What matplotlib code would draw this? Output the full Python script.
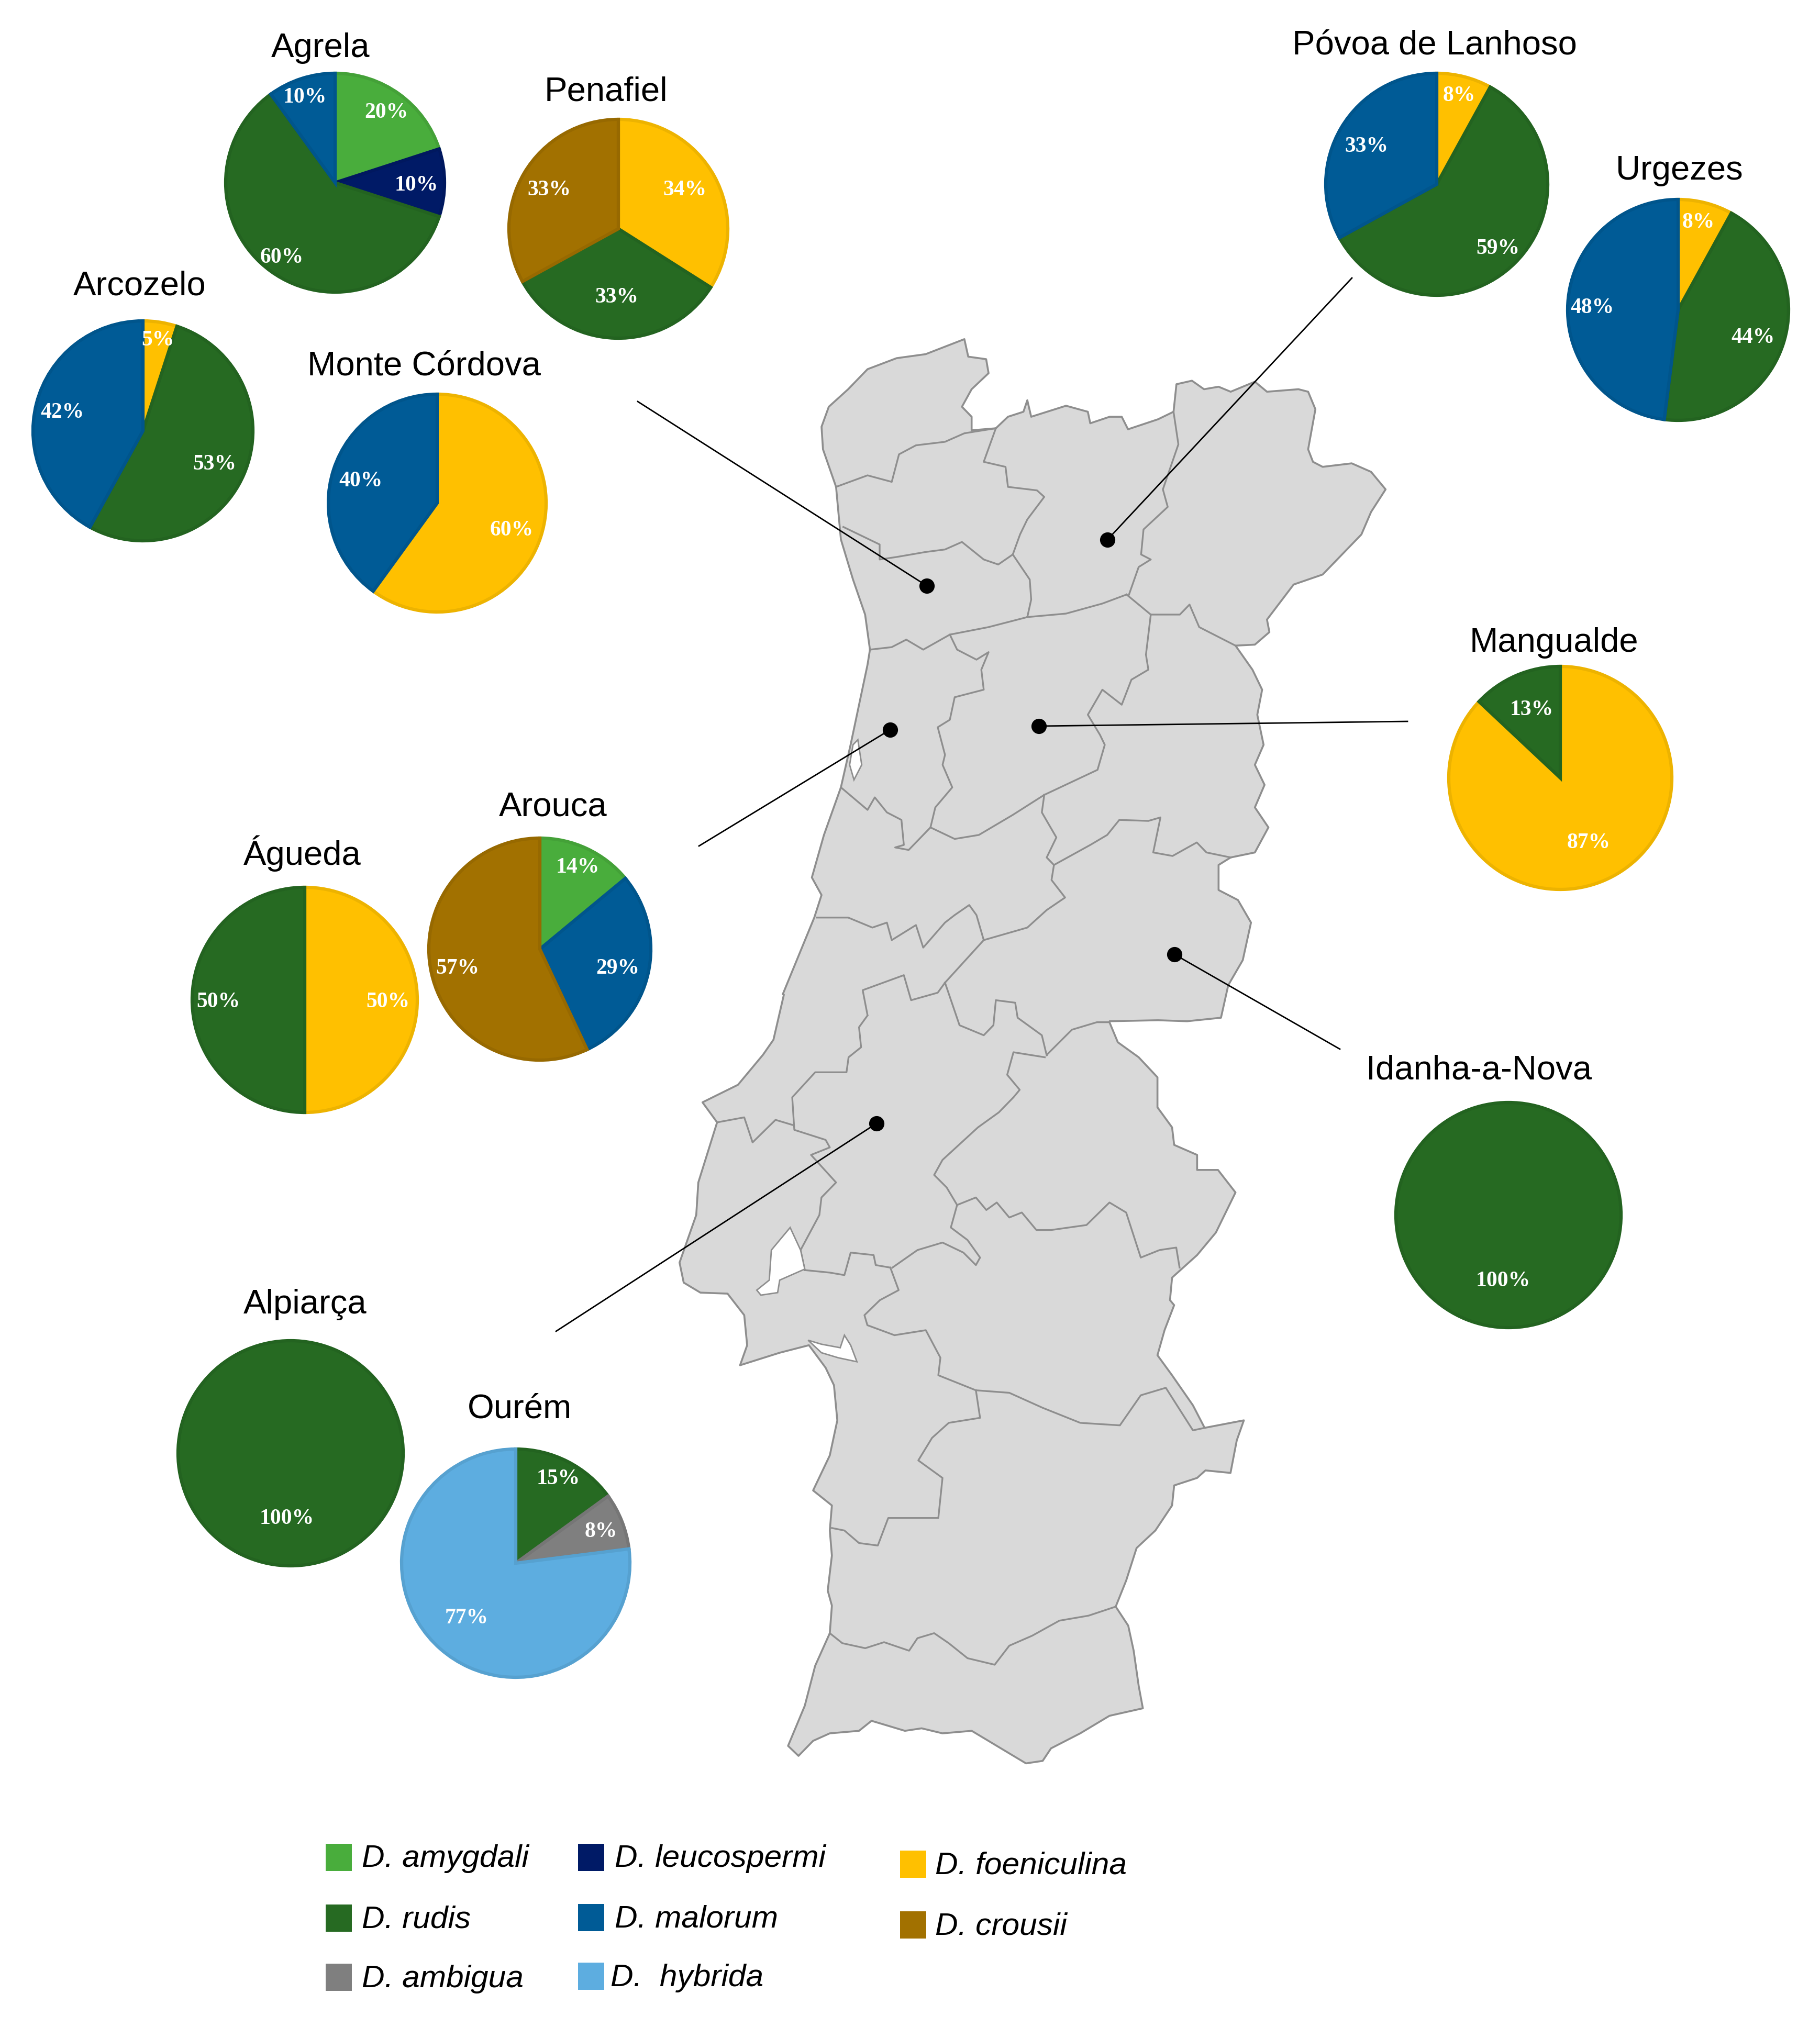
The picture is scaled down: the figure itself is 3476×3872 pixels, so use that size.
import matplotlib
matplotlib.use("Agg")
import matplotlib.pyplot as plt
from matplotlib.patches import Polygon, Rectangle
from matplotlib.colors import to_rgb

W = 3476
H = 3872
# 缩放截图坐标换算到整图像素
Z1 = (1250, 600, 1568 / 1450, 1568 / 1500)
Z2 = (1250, 1900, 1568 / 1250, 1568 / 1500)
SHOW = W / 1408  # 显示坐标 -> 整图像素
TEXT_SHIFT = 3  # 文字整体下移

# 各物种颜色
COLORS = {
    "amygdali": "#49ad3c", "leucospermi": "#001a66", "rudis": "#266a22",
    "malorum": "#005b96", "ambigua": "#7f7f7f", "hybrida": "#5dade0",
    "foeniculina": "#ffc000", "crousii": "#a27100",
}

# 饼图数据
agrela_species = ["amygdali", "leucospermi", "rudis", "malorum"]
agrela_values = [20, 10, 60, 10]
penafiel_species = ["foeniculina", "rudis", "crousii"]
penafiel_values = [34, 33, 33]
arcozelo_species = ["foeniculina", "rudis", "malorum"]
arcozelo_values = [5, 53, 42]
monte_species = ["foeniculina", "malorum"]
monte_values = [60, 40]
povoa_species = ["foeniculina", "rudis", "malorum"]
povoa_values = [8, 59, 33]
urgezes_species = ["foeniculina", "rudis", "malorum"]
urgezes_values = [8, 44, 48]
mangualde_species = ["foeniculina", "rudis"]
mangualde_values = [87, 13]
idanha_species = ["rudis"]
idanha_values = [100]
arouca_species = ["amygdali", "malorum", "crousii"]
arouca_values = [14, 29, 57]
agueda_species = ["foeniculina", "rudis"]
agueda_values = [50, 50]
alpiarca_species = ["rudis"]
alpiarca_values = [100]
ourem_species = ["rudis", "ambigua", "hybrida"]
ourem_values = [15, 8, 77]

# 名称, 物种, 数值, 圆心x, 圆心y, 半径(整图像素), 标题位置, 百分比标签位置(显示坐标)
pies = [
    ("Agrela", agrela_species, agrela_values, 640, 349, 209, (248, 36),
     [(299, 86), (322, 142), (218, 198), (236, 74)]),
    ("Penafiel", penafiel_species, penafiel_values, 1181, 437, 209, (469, 70),
     [(530, 146), (477, 229), (425, 146)]),
    ("Arcozelo", arcozelo_species, arcozelo_values, 273, 823, 210, (108, 220),
     [(122, 262), (166, 358), (48, 318)]),
    ("Monte Córdova", monte_species, monte_values, 835, 961, 208, (328, 282),
     [(396, 409), (279, 371)]),
    ("Póvoa de Lanhoso", povoa_species, povoa_values, 2744, 352, 212, (1110, 34),
     [(1129, 73), (1159, 191), (1057, 112)]),
    ("Urgezes", urgezes_species, urgezes_values, 3205, 592, 211, (1299, 131),
     [(1314, 171), (1356, 260), (1232, 237)]),
    ("Mangualde", mangualde_species, mangualde_values, 2980, 1486, 213, (1202, 496),
     [(1229, 651), (1185, 548)]),
    ("Idanha-a-Nova", idanha_species, idanha_values, 2881, 2321, 215, (1144, 827),
     [(1163, 990)]),
    ("Arouca", arouca_species, arouca_values, 1031, 1813, 212, (428, 623),
     [(447, 670), (478, 748), (354, 748)]),
    ("Águeda", agueda_species, agueda_values, 582, 1910, 215, (234, 659),
     [(300, 774), (169, 774)]),
    ("Alpiarça", alpiarca_species, alpiarca_values, 555, 2776, 215, (236, 1008),
     [(222, 1174)]),
    ("Ourém", ourem_species, ourem_values, 985, 2986, 218, (402, 1089),
     [(432, 1143), (465, 1184), (361, 1251)]),
]

# 图例: 物种, 文字, 色块x, 色块中心y, 文字x
legend_items = [
    ("amygdali", "D. amygdali", 622, 3548, 691),
    ("rudis", "D. rudis", 622, 3664, 691),
    ("ambigua", "D. ambigua", 622, 3777, 691),
    ("leucospermi", "D. leucospermi", 1104, 3548, 1174),
    ("malorum", "D. malorum", 1104, 3663, 1174),
    ("hybrida", "D.  hybrida", 1104, 3775, 1166),
    ("foeniculina", "D. foeniculina", 1719, 3561, 1786),
    ("crousii", "D. crousii", 1719, 3677, 1786),
]

# 地图轮廓（截图坐标）
outline_north = [
    (345, 225), (360, 185), (400, 150), (440, 110), (500, 88), (560, 80), (600, 65), (640, 50), (648, 85),
    (685, 90), (690, 118), (655, 150), (635, 185), (655, 205), (655, 232), (705, 228), (730, 205), (762, 195),
    (770, 172), (778, 205), (850, 183), (895, 195), (900, 218), (940, 205), (965, 205), (978, 230), (1040, 210),
    (1072, 195), (1078, 140), (1110, 133), (1135, 150), (1165, 145), (1190, 155), (1240, 135), (1265, 155),
    (1330, 150), (1350, 155), (1365, 190), (1350, 270), (1360, 295), (1380, 305), (1440, 298), (1480, 315),
    (1510, 350), (1480, 395), (1460, 440), (1420, 480), (1380, 520), (1320, 540), (1265, 610), (1270, 635),
    (1240, 660), (1200, 662), (1235, 710), (1255, 750), (1245, 800), (1258, 860), (1240, 900), (1260, 940),
    (1240, 985), (1268, 1025), (1240, 1075), (1190, 1085), (1165, 1100), (1165, 1150), (1205, 1170), (1232, 1215),
    (1215, 1290), (1185, 1340), (1170, 1405), (1100, 1412), (1040, 1410), (940, 1412),
]
outline_south = [
    (1090, 55), (1110, 95), (1160, 125), (1205, 165), (1205, 225), (1240, 265), (1245, 300), (1300, 320),
    (1300, 350), (1350, 350), (1392, 395), (1345, 475), (1300, 520), (1240, 565), (1235, 610), (1245, 620),
    (1222, 670), (1205, 720), (1240, 760), (1290, 820), (1318, 865), (1412, 850), (1395, 890), (1380, 955),
    (1320, 950), (1300, 965), (1245, 980), (1240, 1020), (1200, 1070), (1155, 1105), (1130, 1170), (1105, 1222),
    (1135, 1260), (1148, 1310), (1160, 1380), (1170, 1425), (1090, 1440), (1020, 1475), (950, 1505), (930, 1530),
    (890, 1535), (830, 1505), (760, 1470), (690, 1475), (640, 1465), (600, 1470), (520, 1450), (490, 1470),
    (420, 1475), (380, 1490), (345, 1520), (320, 1500), (360, 1420), (385, 1340), (420, 1275), (425, 1220),
    (415, 1190), (425, 1120), (420, 1070), (425, 1020), (380, 990), (420, 920), (438, 850), (430, 780), (410, 745),
    (370, 700), (300, 715), (205, 740), (222, 700), (215, 640), (175, 597), (110, 595), (70, 575), (60, 535),
    (100, 440), (105, 375), (150, 255), (115, 215), (200, 180), (260, 120), (285, 90), (310, 0),
]
outline_coast = [
    (265, 1358), (330, 1205), (345, 1160), (325, 1125), (350, 1040), (385, 945), (405, 860), (440, 700), (445, 670),
    (435, 600), (410, 530), (385, 450), (375, 345), (348, 270),
]

# 区界线
borders_z1 = [
    [(375, 345), (440, 322), (490, 335), (505, 280), (540, 262), (600, 255), (640, 238), (705, 228)],
    [(705, 228), (680, 295), (725, 305), (730, 345), (790, 352), (805, 365), (770, 410), (755, 440), (740, 480)],
    [(390, 425), (465, 460), (465, 490), (500, 485), (560, 475), (600, 470), (635, 455), (680, 490), (710, 500), (740, 480)],
    [(740, 480), (775, 530), (778, 570), (770, 605)],
    [(445, 670), (490, 665), (520, 650), (555, 670), (610, 640), (690, 625), (770, 605)],
    [(770, 605), (850, 598), (925, 578), (975, 560)],
    [(1072, 195), (1082, 260), (1050, 350), (1060, 385), (1010, 430), (1005, 480), (1025, 490), (1000, 505), (980, 560)],
    [(975, 560), (1025, 600), (1085, 600), (1105, 580), (1125, 625), (1200, 662)],
    [(1025, 600), (1015, 680), (1020, 710), (985, 730), (965, 780), (925, 750), (895, 800), (920, 840), (930, 860), (915, 910), (805, 960)],
    [(610, 640), (625, 670), (665, 690), (690, 675), (675, 710), (680, 750), (620, 765), (610, 810), (585, 825), (600, 880), (595, 900), (615, 945), (580, 985), (570, 1025)],
    [(385, 945), (440, 990), (455, 965), (480, 995), (510, 1010), (515, 1060), (497, 1065), (525, 1070), (570, 1025)],
    [(570, 1025), (620, 1048), (670, 1040), (740, 1000), (805, 960)],
    [(805, 960), (800, 995), (830, 1045), (810, 1085), (825, 1100)],
    [(825, 1100), (900, 1060), (935, 1040), (960, 1010), (1020, 1012), (1045, 1005), (1030, 1075), (1070, 1082), (1120, 1055), (1140, 1075), (1190, 1085)],
    [(825, 1100), (820, 1130), (848, 1165), (810, 1190), (770, 1225), (680, 1250), (600, 1335)],
    [(335, 1205), (400, 1205), (450, 1225), (480, 1215), (490, 1250), (540, 1220), (555, 1265), (600, 1215), (620, 1200), (650, 1180), (665, 1200), (680, 1250)],
    [(600, 1335), (585, 1355), (530, 1370), (515, 1320), (430, 1350), (440, 1400)],
    [(600, 1335), (630, 1420), (680, 1440), (700, 1420), (705, 1370), (745, 1375), (750, 1405), (800, 1440), (810, 1480)],
]
borders_z2 = [
    [(510, 42), (490, 65), (495, 105), (465, 125), (460, 155), (385, 155), (330, 205), (335, 270), (410, 290), (420, 305), (375, 320), (435, 375), (400, 405), (395, 440), (350, 510), (360, 550)],
    [(150, 255), (215, 245), (235, 295), (290, 250), (330, 260)],
    [(360, 550), (420, 555), (455, 560), (470, 515), (525, 520), (530, 540), (565, 545)],
    [(940, 120), (1000, 70), (1060, 55), (1090, 55)],
    [(935, 125), (860, 115), (845, 160), (875, 190), (860, 205), (825, 235), (775, 265), (690, 330), (670, 360), (700, 385), (725, 420), (710, 465), (750, 490), (780, 525), (770, 540), (740, 515), (690, 495), (630, 510), (570, 545)],
    [(725, 420), (770, 405), (795, 430), (820, 415), (850, 445), (880, 435), (915, 470), (950, 470), (1035, 460), (1090, 415), (1130, 435), (1165, 525), (1210, 510), (1250, 505), (1258, 545)],
    [(565, 545), (585, 590), (540, 610), (503, 640), (510, 660), (575, 680), (650, 670), (685, 725), (680, 760), (770, 790)],
    [(770, 790), (780, 845), (705, 855), (665, 885), (632, 930), (690, 965), (680, 1045), (560, 1045), (535, 1100), (490, 1095), (455, 1070), (425, 1065)],
    [(770, 790), (850, 795), (930, 825), (1020, 855), (1115, 860), (1165, 800), (1225, 785), (1290, 870), (1318, 865)],
    [(420, 1275), (450, 1295), (505, 1305), (550, 1293), (610, 1310), (630, 1285), (670, 1275), (705, 1295), (750, 1325), (815, 1338), (850, 1300), (905, 1280), (970, 1250), (1040, 1240), (1105, 1222)],
]

# 河口、潟湖（白色）
holes_z1 = [[(420, 850), (428, 900), (412, 930), (403, 900), (410, 860)]]
holes_z2 = [
    [(325, 465), (350, 510), (360, 548), (300, 570), (295, 595), (255, 600), (245, 590), (275, 570), (280, 510)],
    [(368, 690), (400, 698), (445, 705), (455, 680), (470, 700), (485, 733), (440, 725), (400, 715)],
]

# 引线：圆点 -> 外端（整图像素）
leaders = [
    ((1770, 1119), (1218, 767)),
    ((2115, 1031), (2582, 531)),
    ((1700, 1394), (1335, 1616)),
    ((1984, 1387), (2688, 1378)),
    ((2243, 1823), (2559, 2004)),
    ((1674, 2146), (1062, 2543)),
]


def zoom_to_px(points, zoom):
    x0, y0, sx, sy = zoom
    return [(x0 + p[0] / sx, y0 + p[1] / sy) for p in points]


# y 轴向上，图像像素 y 向下
def flip(points):
    return [(p[0], H - p[1]) for p in points]


def darker(color, factor=0.93):
    return tuple(c * factor for c in to_rgb(color))


plt.rcParams['font.family'] = ['Liberation Sans', 'DejaVu Sans']

figure = plt.figure(figsize=(W / 100, H / 100), dpi=100)
ax = figure.add_axes([0, 0, 1, 1])

# 地图
outline = zoom_to_px(outline_north, Z1) + zoom_to_px(outline_south, Z2) + zoom_to_px(outline_coast, Z1)
ax.add_patch(Polygon(flip(outline), closed=True, facecolor="#d9d9d9", edgecolor="#8e8e8e", linewidth=2.6,
                     joinstyle="round", zorder=1))
for line in borders_z1:
    pts = flip(zoom_to_px(line, Z1))
    ax.plot([p[0] for p in pts], [p[1] for p in pts], color="#8e8e8e", linewidth=2.4, solid_joinstyle="round", zorder=2)
for line in borders_z2:
    pts = flip(zoom_to_px(line, Z2))
    ax.plot([p[0] for p in pts], [p[1] for p in pts], color="#8e8e8e", linewidth=2.4, solid_joinstyle="round", zorder=2)
for hole in holes_z1:
    ax.add_patch(Polygon(flip(zoom_to_px(hole, Z1)), closed=True, facecolor="white", edgecolor="#8e8e8e", linewidth=2, zorder=2))
for hole in holes_z2:
    ax.add_patch(Polygon(flip(zoom_to_px(hole, Z2)), closed=True, facecolor="white", edgecolor="#8e8e8e", linewidth=2, zorder=2))

# 引线和圆点
for start, end in leaders:
    ax.plot([start[0], end[0]], [H - start[1], H - end[1]], color="black", linewidth=2.0, zorder=3)
    ax.plot(start[0], H - start[1], 'o', color="black", markersize=20, zorder=3)

# 饼图
for name, species, values, cx, cy, radius, title_pos, label_pos in pies:
    wedges, _ = ax.pie(values, colors=[COLORS[s] for s in species], startangle=90, counterclock=False,
                       center=(cx, H - cy), radius=radius, frame=True,
                       wedgeprops={"linewidth": 4.5})
    for wedge, s in zip(wedges, species):
        wedge.set_edgecolor(darker(COLORS[s]))
        wedge.set_zorder(4)
    ax.text(title_pos[0] * SHOW, H - title_pos[1] * SHOW - TEXT_SHIFT, name, fontsize=47, ha="center", va="center",
            color="black", zorder=5)
    for value, pos in zip(values, label_pos):
        ax.text(pos[0] * SHOW, H - pos[1] * SHOW - TEXT_SHIFT, str(value) + "%", fontsize=30, fontweight="bold",
                family=['Liberation Serif', 'DejaVu Serif'], color="white", ha="center", va="center", zorder=5)

# 图例
for s, text, box_x, box_y, text_x in legend_items:
    ax.add_patch(Rectangle((box_x, H - box_y - 26), 50, 52, facecolor=COLORS[s], edgecolor="none", zorder=4))
    ax.text(text_x, H - box_y - TEXT_SHIFT, text, fontsize=43.5, style="italic", ha="left", va="center",
            color="black", zorder=5)

ax.set_xlim(0, W)
ax.set_ylim(0, H)
ax.set_aspect("auto")
ax.axis("off")

figure.savefig("out.png", dpi=100, facecolor="white")
